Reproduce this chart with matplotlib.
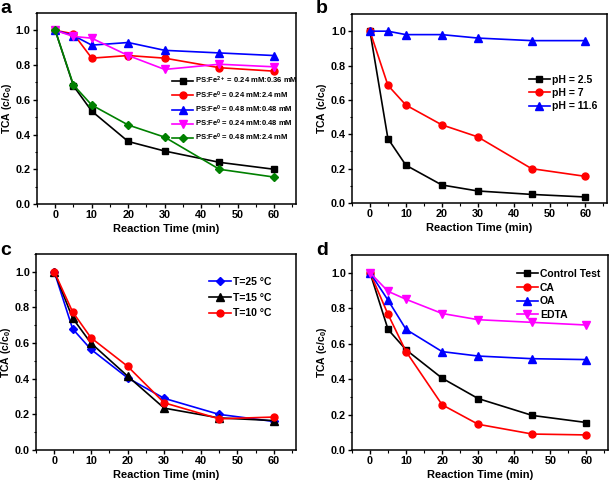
import matplotlib
matplotlib.use("Agg")
import matplotlib.pyplot as plt
from matplotlib.ticker import MultipleLocator

plt.rcParams['font.family'] = ['Liberation Sans', 'DejaVu Sans']
plt.rcParams['font.weight'] = 'bold'
plt.rcParams['mathtext.fontset'] = 'custom'
plt.rcParams['mathtext.rm'] = 'Liberation Sans:bold'
plt.rcParams['mathtext.bf'] = 'Liberation Sans:bold'
plt.rcParams['mathtext.it'] = 'Liberation Sans:bold'
plt.rcParams['mathtext.default'] = 'bf'

t = [0, 5, 10, 20, 30, 45, 60]

# panel a
a_fe2 = [1.0, 0.68, 0.535, 0.36, 0.305, 0.24, 0.2]
a_fe0_024_24 = [1.0, 0.98, 0.84, 0.855, 0.84, 0.785, 0.765]
a_fe0_048_048 = [1.0, 0.97, 0.915, 0.93, 0.885, 0.87, 0.855]
a_fe0_024_048 = [1.0, 0.965, 0.955, 0.855, 0.775, 0.805, 0.79]
a_fe0_048_24 = [1.0, 0.685, 0.57, 0.455, 0.385, 0.2, 0.155]
a_labels = ["PS:Fe$^{2+}$ = 0.24 mM:0.36 mM",
            "PS:Fe$^{0}$ = 0.24 mM:2.4 mM",
            "PS:Fe$^{0}$ = 0.48 mM:0.48 mM",
            "PS:Fe$^{0}$ = 0.24 mM:0.48 mM",
            "PS:Fe$^{0}$ = 0.48 mM:2.4 mM"]

# panel b
b_ph25 = [1.0, 0.375, 0.22, 0.105, 0.07, 0.05, 0.035]
b_ph7 = [1.0, 0.685, 0.57, 0.455, 0.385, 0.2, 0.155]
b_ph116 = [1.0, 1.0, 0.98, 0.98, 0.96, 0.945, 0.945]
b_labels = ["pH = 2.5", "pH = 7", "pH = 11.6"]

# panel c
c_t25 = [1.0, 0.68, 0.565, 0.405, 0.29, 0.2, 0.16]
c_t15 = [1.0, 0.74, 0.6, 0.415, 0.235, 0.18, 0.165]
c_t10 = [1.0, 0.775, 0.63, 0.47, 0.265, 0.175, 0.185]
c_labels = ["T=25 °C", "T=15 °C", "T=10 °C"]

# panel d
d_ctrl = [1.0, 0.68, 0.565, 0.405, 0.29, 0.195, 0.155]
d_ca = [1.0, 0.765, 0.555, 0.255, 0.145, 0.09, 0.085]
d_oa = [1.0, 0.845, 0.68, 0.555, 0.53, 0.515, 0.51]
d_edta = [1.0, 0.895, 0.85, 0.77, 0.735, 0.72, 0.705]
d_labels = ["Control Test", "CA", "OA", "EDTA"]

W, H = 609, 482
fig = plt.figure(figsize=(W / 100, H / 100), dpi=100)

def add_ax(l, t_, r, b):
    return fig.add_axes([l / W, 1 - b / H, (r - l) / W, (b - t_) / H])

axa = add_ax(37, 13, 296, 204)
axb = add_ax(352, 14, 607, 203)
axc = add_ax(36, 254, 296, 450)
axd = add_ax(352, 255, 608, 450)

ms = 5
lw = 1.2

def style(ax, letter, lx, ly, ylx):
    ax.set_xlim(-5, 66)
    ax.set_ylim(0, 1.1)
    ax.xaxis.set_major_locator(MultipleLocator(10))
    ax.xaxis.set_minor_locator(MultipleLocator(5))
    ax.yaxis.set_minor_locator(MultipleLocator(0.1))
    ax.tick_params(which='major', direction='out', length=3, width=1, labelsize=7.8, pad=1.5)
    ax.tick_params(which='minor', direction='out', length=1.8, width=0.8)
    ax.set_yticks([0, 0.2, 0.4, 0.6, 0.8, 1.0])
    ax.set_yticklabels(["0.0", "0.2", "0.4", "0.6", "0.8", "1.0"])
    for s in ax.spines.values():
        s.set_linewidth(1.1)
    ax.set_xlabel("Reaction Time (min)", fontsize=8, fontweight='bold', labelpad=2.5)
    ax.set_ylabel("TCA (c/c$_{0}$)", fontsize=7.5, fontweight='bold')
    pos = ax.get_position()
    ax.yaxis.set_label_coords((ylx / W - pos.x0) / pos.width, 0.5)
    fig.text(lx / W, 1 - ly / H, letter, fontsize=14, fontweight='bold',
             ha='left', va='top')

def leg(ax, x, y, fs, hl, ls):
    ax.legend(loc='upper left', bbox_to_anchor=(x / W, 1 - y / H),
              bbox_transform=fig.transFigure, frameon=False, fontsize=fs,
              handlelength=hl, handletextpad=0.2, labelspacing=ls,
              borderaxespad=0, borderpad=0)

# a
axa.plot(t, a_fe2, color='black', marker='s', ms=ms, lw=lw, label=a_labels[0])
axa.plot(t, a_fe0_024_24, color='red', marker='o', ms=ms, lw=lw, label=a_labels[1])
axa.plot(t, a_fe0_048_048, color='blue', marker='^', ms=ms + 0.5, lw=lw, label=a_labels[2])
axa.plot(t, a_fe0_024_048, color='magenta', marker='v', ms=ms + 0.5, lw=lw, label=a_labels[3])
axa.plot(t, a_fe0_048_24, color='#008000', marker='D', ms=ms - 0.5, lw=lw, label=a_labels[4])
style(axa, 'a', 0, 0, 14)
leg(axa, 172, 75, 5.5, 2.8, 0.38)

# b
axb.plot(t, b_ph25, color='black', marker='s', ms=ms, lw=lw, label=b_labels[0])
axb.plot(t, b_ph7, color='red', marker='o', ms=ms, lw=lw, label=b_labels[1])
axb.plot(t, b_ph116, color='blue', marker='^', ms=ms + 0.5, lw=lw, label=b_labels[2])
style(axb, 'b', 316, 0, 329)
leg(axb, 529, 75, 7.5, 2.0, 0.3)

# c
axc.plot(t, c_t25, color='blue', marker='D', ms=ms - 0.5, lw=lw, label=c_labels[0])
axc.plot(t, c_t15, color='black', marker='^', ms=ms + 0.5, lw=lw, label=c_labels[1])
axc.plot(t, c_t10, color='red', marker='o', ms=ms, lw=lw, label=c_labels[2])
style(axc, 'c', 0, 242, 13)
leg(axc, 209, 277, 7.5, 2.1, 0.55)

# d
axd.plot(t, d_ctrl, color='black', marker='s', ms=ms, lw=lw, label=d_labels[0])
axd.plot(t, d_ca, color='red', marker='o', ms=ms, lw=lw, label=d_labels[1])
axd.plot(t, d_oa, color='blue', marker='^', ms=ms + 0.5, lw=lw, label=d_labels[2])
axd.plot(t, d_edta, color='magenta', marker='v', ms=ms + 0.5, lw=lw, label=d_labels[3])
style(axd, 'd', 316, 242, 329)
leg(axd, 517, 269, 7.5, 2.0, 0.35)

fig.savefig("out.png", dpi=100)
